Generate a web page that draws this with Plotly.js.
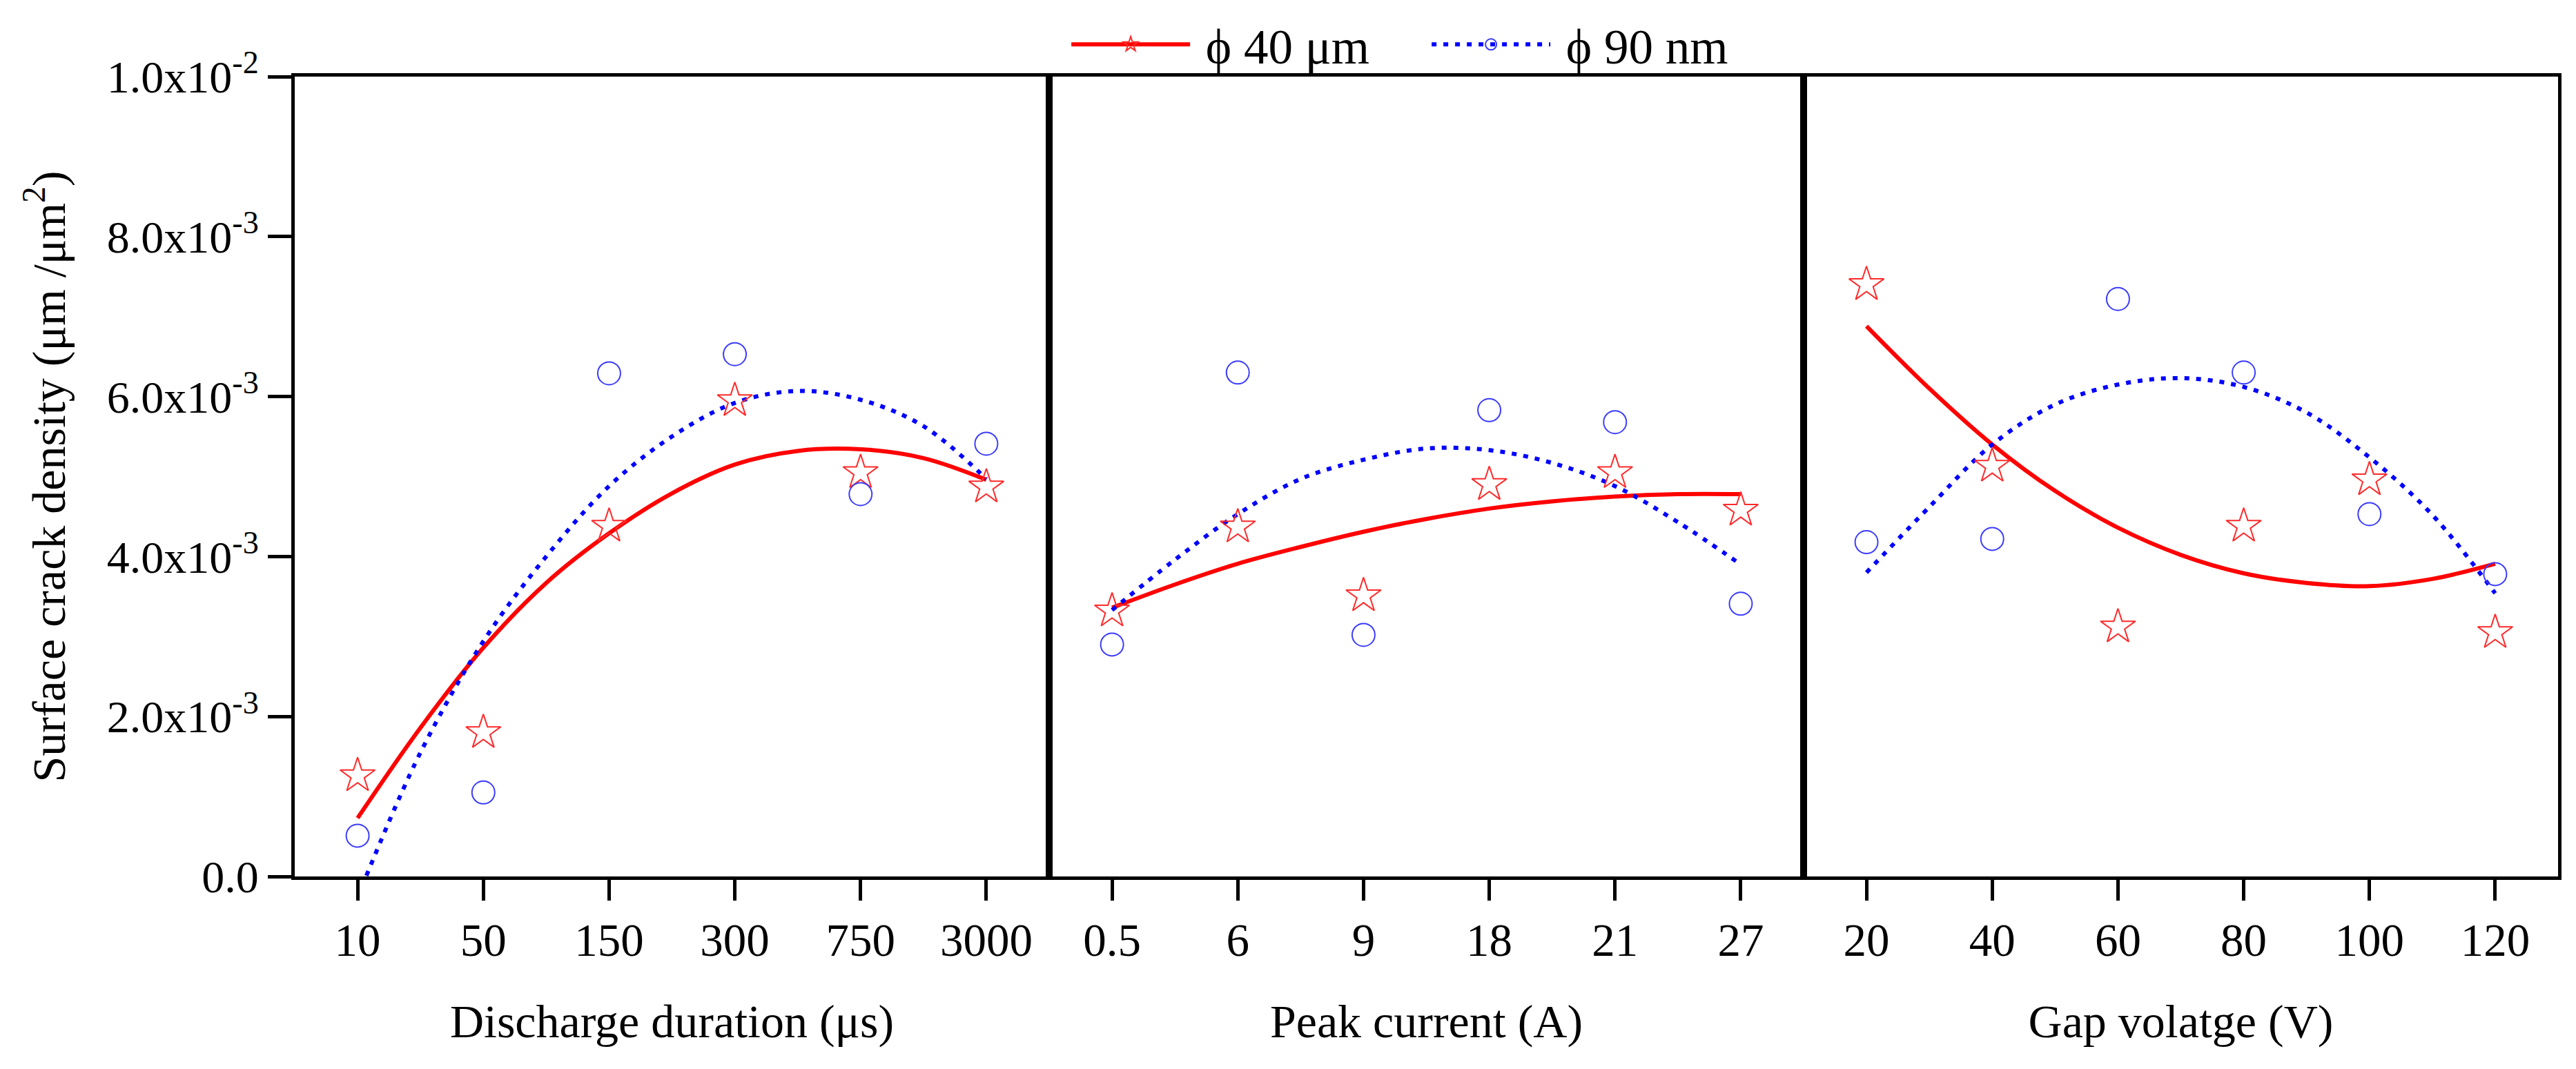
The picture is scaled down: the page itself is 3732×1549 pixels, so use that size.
<!DOCTYPE html>
<html>
<head>
<meta charset="utf-8">
<script src="https://cdn.plot.ly/plotly-3.0.1.min.js"></script>
<style>
  html, body { margin: 0; padding: 0; background: #fff; }
  #chart { width: 3732px; height: 1549px; }
</style>
</head>
<body>
<div id="chart"></div>
<script>
// category labels of the three panels
const durationLabels = ["10", "50", "150", "300", "750", "3000"];
const currentLabels = ["0.5", "6", "9", "18", "21", "27"];
const voltageLabels = ["20", "40", "60", "80", "100", "120"];
const catIdx = [0, 1, 2, 3, 4, 5];

// measured points (um/um^2)
const dur40 = [0.00126, 0.00180, 0.00438, 0.00595, 0.00505, 0.00487];
const dur90 = [0.00051, 0.00105, 0.00629, 0.00653, 0.00478, 0.00541];
const cur40 = [0.00332, 0.00437, 0.00351, 0.00490, 0.00505, 0.00458];
const cur90 = [0.00290, 0.00630, 0.00302, 0.00583, 0.00568, 0.00341];
const vol40 = [0.00740, 0.00513, 0.00312, 0.00438, 0.00496, 0.00305];
const vol90 = [0.00418, 0.00422, 0.00722, 0.00630, 0.00453, 0.00378];

// fitted curves at half-category steps
const fitX = [0, 0.5, 1, 1.5, 2, 2.5, 3, 3.5, 4, 4.5, 5];
const fitX90dur = [0.07, 0.5, 1, 1.5, 2, 2.5, 3, 3.5, 4, 4.5, 5];
const durFit40 = [0.00073, 0.00186, 0.00286, 0.00367, 0.00429, 0.00479, 0.00515, 0.00532, 0.00534, 0.00523, 0.00496];
const durFit90 = [0.00001, 0.00155, 0.00294, 0.00400, 0.00488, 0.00550, 0.00592, 0.00607, 0.00596, 0.00563, 0.00497];
const curFit40 = [0.00336, 0.00365, 0.00391, 0.00412, 0.00431, 0.00447, 0.00460, 0.00469, 0.00475, 0.00478, 0.00478];
const curFit90 = [0.00333, 0.00396, 0.00453, 0.00497, 0.00521, 0.00535, 0.00533, 0.00517, 0.00488, 0.00443, 0.00390];
const volFit40 = [0.00688, 0.00610, 0.00540, 0.00482, 0.00436, 0.00402, 0.00379, 0.00367, 0.00363, 0.00372, 0.00391];
const volFit90 = [0.00380, 0.00462, 0.00540, 0.00590, 0.00615, 0.00623, 0.00612, 0.00580, 0.00524, 0.00452, 0.00354];

const yTickVals = [0, 0.002, 0.004, 0.006, 0.008, 0.01];
const yTickText = ["0.0", "2.0x10<sup>-3</sup>", "4.0x10<sup>-3</sup>", "6.0x10<sup>-3</sup>",
  "8.0x10<sup>-3</sup>", "1.0x10<sup>-2</sup>"];

const FONT = "Liberation Serif, Times New Roman, serif";
const RED = "#ff0000";
const BLUE = "#0000ff";

const starMarker = {symbol: "star-open", size: 38, color: "#ff2a2a", line: {color: "#ff2a2a", width: 2}};
const circMarker = {symbol: "circle-open", size: 33, color: "#3c3cff", line: {color: "#3c3cff", width: 2}};
const redLine = {color: RED, width: 6, shape: "spline"};
const blueLine = {color: BLUE, width: 6, dash: "7px,10px", shape: "spline"};

function panel(xa, ya, pts40, pts90, fx40, fy40, fx90, fy90) {
  return [
    {x: fx40, y: fy40, xaxis: xa, yaxis: ya, mode: "lines", line: redLine, showlegend: false, hoverinfo: "skip"},
    {x: fx90, y: fy90, xaxis: xa, yaxis: ya, mode: "lines", line: blueLine, showlegend: false, hoverinfo: "skip"},
    {x: catIdx, y: pts40, xaxis: xa, yaxis: ya, mode: "markers", marker: starMarker, showlegend: false, cliponaxis: false},
    {x: catIdx, y: pts90, xaxis: xa, yaxis: ya, mode: "markers", marker: circMarker, showlegend: false, cliponaxis: false}
  ];
}

const traces = [].concat(
  panel("x", "y", dur40, dur90, fitX, durFit40, fitX90dur, durFit90),
  panel("x2", "y2", cur40, cur90, fitX, curFit40, fitX, curFit90),
  panel("x3", "y3", vol40, vol90, fitX, volFit40, fitX, volFit90),
  [
    // legend entries only (leading nbsp = gap between symbol and text)
    {x: [null], y: [null], mode: "lines+markers", name: "\u00a0\u03d5 40 \u03bcm",
      line: {color: RED, width: 6}, marker: starMarker},
    {x: [null], y: [null], mode: "lines+markers", name: "\u00a0\u03d5 90 nm",
      line: {color: BLUE, width: 6, dash: "7px,10px"}, marker: circMarker}
  ]
);

function xAxis(dom, labels, title, anchor) {
  return {
    domain: dom, anchor: anchor, range: [-0.5, 5.5],
    tickmode: "array", tickvals: catIdx, ticktext: labels,
    showline: true, mirror: true, linecolor: "#000", linewidth: 5,
    ticks: "outside", ticklen: 30, tickwidth: 5, tickcolor: "#000",
    showgrid: false, zeroline: false, fixedrange: true,
    tickfont: {family: FONT, size: 67, color: "#000"},
    title: {text: title, font: {family: FONT, size: 68, color: "#000"}, standoff: 58}
  };
}

function yAxis(anchor, withTicks) {
  const ax = {
    anchor: anchor, range: [0, 0.01],
    showline: true, mirror: true, linecolor: "#000", linewidth: 5,
    showgrid: false, zeroline: false, fixedrange: true
  };
  if (withTicks) {
    Object.assign(ax, {
      tickmode: "array", tickvals: yTickVals, ticktext: yTickText,
      ticks: "outside", ticklen: 34, tickwidth: 5, tickcolor: "#000",
      tickfont: {family: FONT, size: 66, color: "#000"},
      title: {text: "Surface crack density (\u03bcm /\u03bcm<sup>2</sup>)",
        font: {family: FONT, size: 68, color: "#000"}, standoff: 40}
    });
  } else {
    Object.assign(ax, {ticks: "", showticklabels: false});
  }
  return ax;
}

const layout = {
  width: 3732, height: 1549,
  margin: {l: 427, r: 26, t: 97, b: 279},
  paper_bgcolor: "#fff", plot_bgcolor: "#fff",
  font: {family: FONT, color: "#000"},
  xaxis: xAxis([0, 1 / 3], durationLabels, "Discharge duration (\u03bcs)", "y"),
  xaxis2: xAxis([1 / 3, 2 / 3], currentLabels, "Peak current (A)", "y2"),
  xaxis3: xAxis([2 / 3, 1], voltageLabels, "Gap volatge (V)", "y3"),
  yaxis: yAxis("x", true),
  yaxis2: yAxis("x2", false),
  yaxis3: yAxis("x3", false),
  showlegend: true,
  legend: {
    orientation: "h", x: 0.3416, xanchor: "left", y: 1.04, yanchor: "middle",
    font: {family: FONT, size: 71, color: "#000"}, itemwidth: 172,
    entrywidth: 335, entrywidthmode: "pixels",
    bgcolor: "rgba(0,0,0,0)"
  }
};

Plotly.newPlot("chart", traces, layout, {staticPlot: true});
</script>
</body>
</html>
